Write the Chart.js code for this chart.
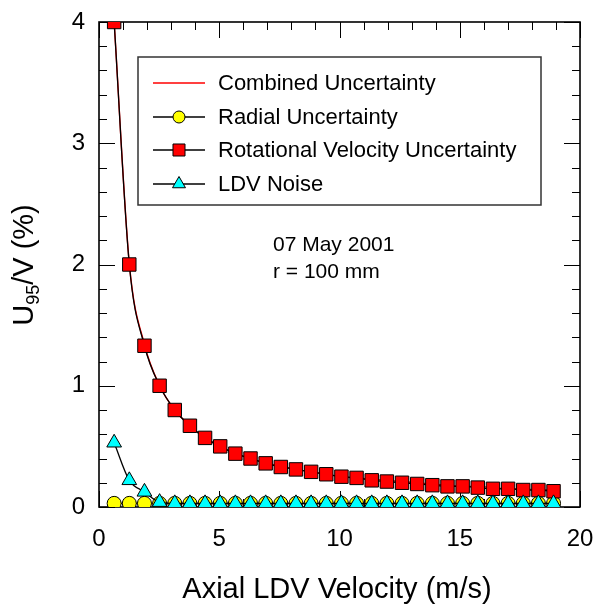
<!DOCTYPE html>
<html>
<head>
<meta charset="utf-8">
<script src="https://cdn.jsdelivr.net/npm/chart.js@4"></script>
<style>
html, body { margin: 0; padding: 0; background: #fff; }
</style>
</head>
<body>
<canvas id="uncertainty" width="597" height="605"></canvas>
<script>
// axial LDV velocity (m/s)
const velocity = [0.63, 1.26, 1.89, 2.52, 3.15, 3.78, 4.41, 5.04, 5.67, 6.30,
	6.93, 7.56, 8.19, 8.82, 9.45, 10.08, 10.71, 11.34, 11.97, 12.60,
	13.23, 13.86, 14.49, 15.12, 15.75, 16.38, 17.01, 17.64, 18.27, 18.90];
// U95/V (%)
const combined = [4.00, 2.01, 1.34, 1.00, 0.80, 0.67, 0.57, 0.50, 0.44, 0.40,
	0.36, 0.34, 0.31, 0.29, 0.27, 0.25, 0.24, 0.23, 0.22, 0.21,
	0.20, 0.19, 0.18, 0.17, 0.17, 0.16, 0.15, 0.15, 0.14, 0.14];
const radial = [0.03, 0.03, 0.03, 0.03, 0.03, 0.03, 0.03, 0.03, 0.03, 0.03,
	0.03, 0.03, 0.03, 0.03, 0.03, 0.03, 0.03, 0.03, 0.03, 0.03,
	0.03, 0.03, 0.03, 0.03, 0.03, 0.03, 0.03, 0.03, 0.03, 0.03];
const rotational = [4.00, 2.00, 1.33, 1.00, 0.80, 0.67, 0.57, 0.50, 0.44, 0.40,
	0.36, 0.33, 0.31, 0.29, 0.27, 0.25, 0.24, 0.22, 0.21, 0.20,
	0.19, 0.18, 0.17, 0.17, 0.16, 0.15, 0.15, 0.14, 0.14, 0.13];
const ldvNoise = [0.53, 0.22, 0.125, 0.04, 0.03, 0.03, 0.03, 0.03, 0.03, 0.03,
	0.03, 0.03, 0.03, 0.03, 0.03, 0.03, 0.03, 0.03, 0.03, 0.03,
	0.03, 0.03, 0.03, 0.03, 0.03, 0.03, 0.03, 0.03, 0.03, 0.03];

const xTicks = [0, 5, 10, 15, 20];
const yTicks = [0, 1, 2, 3, 4];
const xMinor = [1, 2, 3, 4, 6, 7, 8, 9, 11, 12, 13, 14, 16, 17, 18, 19];
const yMinor = [0.2, 0.4, 0.6, 0.8, 1.2, 1.4, 1.6, 1.8, 2.2, 2.4, 2.6, 2.8, 3.2, 3.4, 3.6, 3.8];

const FONT = "'Liberation Sans', Arial, Helvetica, sans-serif";

const pts = ys => velocity.map((x, i) => ({ x: x, y: ys[i] }));

const datasets = [
	{
		label: 'Combined Uncertainty',
		data: pts(combined),
		borderColor: '#ff0000',
		borderWidth: 1.4,
		pointRadius: 0,
		cubicInterpolationMode: 'monotone',
		order: 4,
	},
	{
		label: 'Radial Uncertainty',
		data: pts(radial),
		borderColor: '#000',
		borderWidth: 1.3,
		pointStyle: 'circle',
		pointRadius: 7,
		pointBackgroundColor: '#ffff00',
		pointBorderColor: '#000',
		pointBorderWidth: 1,
		order: 3,
	},
	{
		label: 'Rotational Velocity Uncertainty',
		data: pts(rotational),
		borderColor: '#000',
		borderWidth: 1.3,
		pointStyle: 'rect',
		pointRadius: 9.5,
		pointBackgroundColor: '#ff0000',
		pointBorderColor: '#000',
		pointBorderWidth: 1,
		cubicInterpolationMode: 'monotone',
		order: 2,
	},
	{
		label: 'LDV Noise',
		data: pts(ldvNoise),
		borderColor: '#000',
		borderWidth: 1.3,
		pointStyle: 'triangle',
		pointRadius: 8.5,
		pointBackgroundColor: '#00ffff',
		pointBorderColor: '#000',
		pointBorderWidth: 1,
		cubicInterpolationMode: 'monotone',
		order: 1,
	},
];

// frame with inward ticks on all four sides
const framePlugin = {
	id: 'frame',
	beforeDatasetsDraw(chart) {
		const { ctx, chartArea: a, scales: { x, y } } = chart;
		ctx.save();
		ctx.strokeStyle = '#000';
		ctx.lineWidth = 1;
		const tick = (list, len) => {
			list.forEach(v => {
				const px = Math.round(x.getPixelForValue(v)) + 0.5;
				ctx.beginPath();
				ctx.moveTo(px, a.bottom); ctx.lineTo(px, a.bottom - len);
				ctx.moveTo(px, a.top); ctx.lineTo(px, a.top + len);
				ctx.stroke();
			});
		};
		const tickY = (list, len) => {
			list.forEach(v => {
				const py = Math.round(y.getPixelForValue(v)) + 0.5;
				ctx.beginPath();
				ctx.moveTo(a.left, py); ctx.lineTo(a.left + len, py);
				ctx.moveTo(a.right, py); ctx.lineTo(a.right - len, py);
				ctx.stroke();
			});
		};
		tick(xMinor, 8);
		tick(xTicks, 16);
		tickY(yMinor, 8);
		tickY(yTicks, 16);
		ctx.lineWidth = 1.6;
		ctx.strokeRect(a.left, a.top, a.right - a.left, a.bottom - a.top);
		ctx.restore();
	},
	afterDraw(chart) {
		const { ctx } = chart;
		ctx.save();
		// legend box
		ctx.strokeStyle = '#333';
		ctx.lineWidth = 1.5;
		ctx.fillStyle = '#fff';
		ctx.fillRect(138, 57, 403, 148);
		ctx.strokeRect(138, 57, 403, 148);
		const rows = [83, 117, 150, 184];
		chart.data.datasets.forEach((ds, i) => {
			const yy = rows[i];
			ctx.strokeStyle = ds.borderColor;
			ctx.lineWidth = ds.borderWidth;
			ctx.beginPath();
			ctx.moveTo(153, yy); ctx.lineTo(205, yy);
			ctx.stroke();
			if (ds.pointRadius > 0) {
				ctx.fillStyle = ds.pointBackgroundColor;
				ctx.strokeStyle = ds.pointBorderColor;
				ctx.lineWidth = ds.pointBorderWidth;
				Chart.helpers.drawPoint(ctx, {
					pointStyle: ds.pointStyle,
					radius: ds.pointRadius - 1,
					rotation: 0,
					borderWidth: ds.pointBorderWidth,
				}, 179, yy);
			}
			ctx.fillStyle = '#000';
			ctx.font = '22px ' + FONT;
			ctx.textBaseline = 'middle';
			ctx.textAlign = 'left';
			ctx.fillText(ds.label, 218, yy + 1);
		});
		// annotation
		ctx.fillStyle = '#000';
		ctx.font = '21px ' + FONT;
		ctx.textBaseline = 'middle';
		ctx.fillText('07 May 2001', 273, 245);
		ctx.fillText('r = 100 mm', 273, 272);
		// x title
		ctx.font = '29px ' + FONT;
		ctx.textAlign = 'center';
		ctx.textBaseline = 'alphabetic';
		ctx.fillText('Axial LDV Velocity (m/s)', 337, 598);
		// y title with subscript
		ctx.translate(33, 265);
		ctx.rotate(-Math.PI / 2);
		const big = '29px ' + FONT, small = '18px ' + FONT;
		ctx.font = big;
		const wU = ctx.measureText('U').width;
		const wRest = ctx.measureText('/V (%)').width;
		ctx.font = small;
		const wSub = ctx.measureText('95').width;
		let sx = -(wU + wSub + wRest) / 2;
		ctx.textAlign = 'left';
		ctx.font = big;
		ctx.fillText('U', sx, 0);
		sx += wU;
		ctx.font = small;
		ctx.fillText('95', sx, 6);
		sx += wSub;
		ctx.font = big;
		ctx.fillText('/V (%)', sx, 0);
		ctx.restore();
	}
};

const config_uncertainty = {
	type: 'line',
	data: { datasets: datasets },
	options: {
		responsive: false,
		animation: false,
		layout: { padding: { top: 22, right: 17, left: 0, bottom: 0 } },
		plugins: {
			legend: { display: false },
			title: { display: false },
			tooltip: { enabled: false },
		},
		scales: {
			x: {
				type: 'linear',
				min: 0,
				max: 20,
				afterBuildTicks: s => { s.ticks = xTicks.map(v => ({ value: v })); },
				afterFit: s => { s.height = 98; s.paddingLeft = 0; s.paddingRight = 0; },
				grid: { display: false, drawTicks: false },
				border: { display: false },
				ticks: {
					color: '#000',
					padding: 18,
					maxRotation: 0,
					font: { family: FONT, size: 24 },
				},
			},
			y: {
				min: 0,
				max: 4,
				afterBuildTicks: s => { s.ticks = yTicks.map(v => ({ value: v })); },
				afterFit: s => { s.width = 99; s.paddingTop = 0; s.paddingBottom = 0; },
				grid: { display: false, drawTicks: false },
				border: { display: false },
				ticks: {
					color: '#000',
					padding: 14,
					font: { family: FONT, size: 24 },
				},
			},
		},
	},
	plugins: [framePlugin],
};

const uncertainty = new Chart(
	document.getElementById('uncertainty'),
	config_uncertainty
);
</script>
</body>
</html>
